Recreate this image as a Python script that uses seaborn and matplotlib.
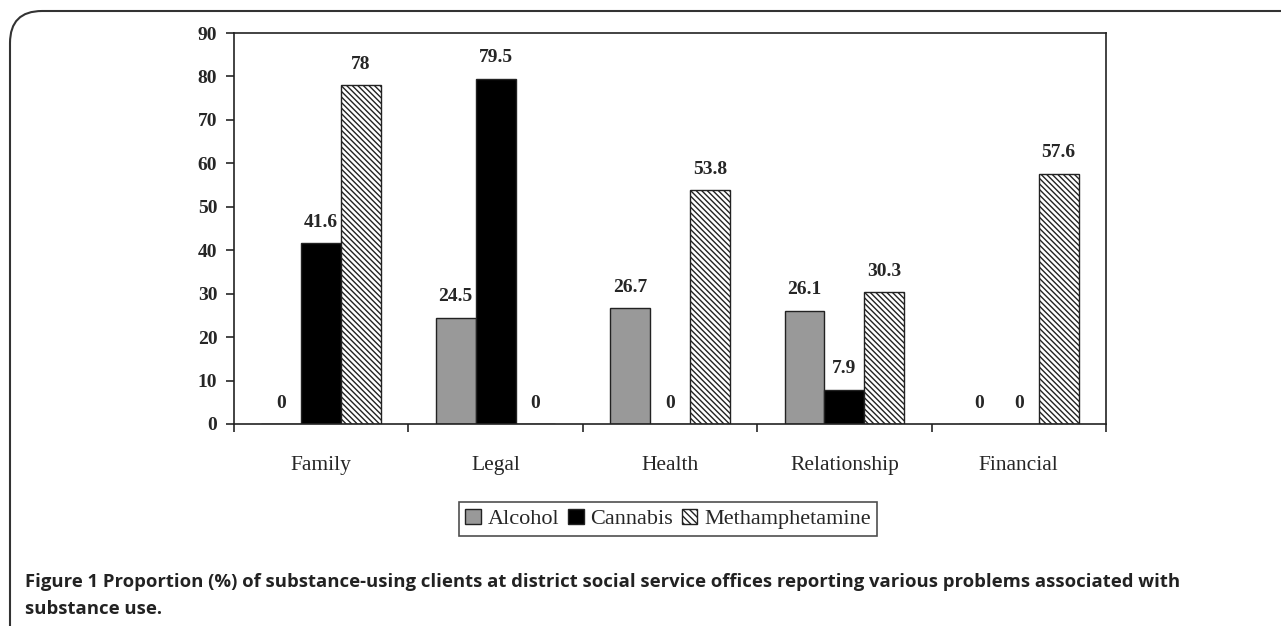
import matplotlib
matplotlib.use("Agg")
import matplotlib.pyplot as plt
from matplotlib.patches import FancyBboxPatch, Patch
import seaborn as sns
import pandas as pd

# data
problems = ["Family", "Legal", "Health", "Relationship", "Financial"]
substances = ["Alcohol", "Cannabis", "Methamphetamine"]
alcohol = [0, 24.5, 26.7, 26.1, 0]
cannabis = [41.6, 79.5, 0, 7.9, 0]
meth = [78, 0, 53.8, 30.3, 57.6]
value_labels = {"Alcohol": ["0", "24.5", "26.7", "26.1", "0"],
                "Cannabis": ["41.6", "79.5", "0", "7.9", "0"],
                "Methamphetamine": ["78", "0", "53.8", "30.3", "57.6"]}

df = pd.DataFrame({"Problem": problems * 3,
                   "Substance": [s for s in substances for _ in problems],
                   "Percent": alcohol + cannabis + meth})

sns.set_style("white")
plt.rcParams["font.family"] = ["Liberation Serif", "DejaVu Serif"]
plt.rcParams["hatch.linewidth"] = 1.0

fig = plt.figure(figsize=(12.81, 6.26), dpi=100)
ax = fig.add_axes([234 / 1281, 1 - 424 / 626, (1106 - 234) / 1281, (424 - 33) / 626])

colors = {"Alcohol": "#999999", "Cannabis": "#000000", "Methamphetamine": "#ffffff"}
sns.barplot(data=df, x="Problem", y="Percent", hue="Substance", order=problems,
            hue_order=substances, palette=colors, width=0.686, gap=0,
            edgecolor="#222222", linewidth=1.0, legend=False, ax=ax)

for cont, sub in zip(ax.containers, substances):
    if sub == "Methamphetamine":
        for bar in cont:
            bar.set_hatch("\\\\\\\\\\\\")
    ax.bar_label(cont, labels=value_labels[sub], padding=9,
                 fontsize=14, fontweight="bold")

ax.set_ylim(0, 90)
ax.set_yticks(range(0, 91, 10))
ax.set_xlim(-0.5, len(problems) - 0.5)
ax.set_xlabel("")
ax.set_ylabel("")
for side in ["left", "bottom", "top", "right"]:
    ax.spines[side].set_visible(True)
    ax.spines[side].set_color("#222222")
    ax.spines[side].set_linewidth(1.2)

ax.tick_params(axis="y", length=6, width=1.2, direction="out", left=True,
               labelsize=14, pad=6)
for t in ax.get_yticklabels():
    t.set_fontweight("bold")
# category ticks sit between groups
ax.set_xticks([i - 0.5 for i in range(len(problems) + 1)], minor=False)
ax.set_xticklabels([])
ax.tick_params(axis="x", which="major", length=6, width=1.2, direction="out", bottom=True)
ax.set_xticks(range(len(problems)), minor=True)
ax.set_xticklabels(problems, minor=True)
ax.tick_params(axis="x", which="minor", length=0, labelsize=15.5, pad=23)

handles = [Patch(facecolor=colors[s], edgecolor="#222222",
                 hatch="\\\\\\\\\\" if s == "Methamphetamine" else None) for s in substances]
leg = fig.legend(handles, substances, loc="center", bbox_to_anchor=(668 / 1281, 1 - 519 / 626),
                 ncol=3, frameon=True, fancybox=False, fontsize=16, handlelength=0.7,
                 handleheight=0.7, handletextpad=0.3, columnspacing=0.4,
                 borderpad=0.3, edgecolor="#222222")
leg.get_frame().set_linewidth(1.2)

# outer rounded frame of the figure panel
frame = FancyBboxPatch((10 / 1281, -0.2), 1.2, 1 - 11 / 626 + 0.2,
                       boxstyle="round,pad=0,rounding_size=0.025",
                       transform=fig.transFigure, fill=False,
                       edgecolor="#333333", linewidth=1.5, mutation_aspect=1281 / 626)
fig.patches.append(frame)

cap_font = ["Open Sans", "DejaVu Sans"]
fig.text(25 / 1281, 1 - 587 / 626,
         "Figure 1 Proportion (%) of substance-using clients at district social service offices "
         "reporting various problems associated with",
         fontsize=13.3, fontweight="bold", family=cap_font, color="#222222", va="baseline")
fig.text(25 / 1281, 1 - 614 / 626, "substance use.", fontsize=13.3, fontweight="bold",
         family=cap_font, color="#222222", va="baseline")

fig.savefig("out.png", dpi=100)
